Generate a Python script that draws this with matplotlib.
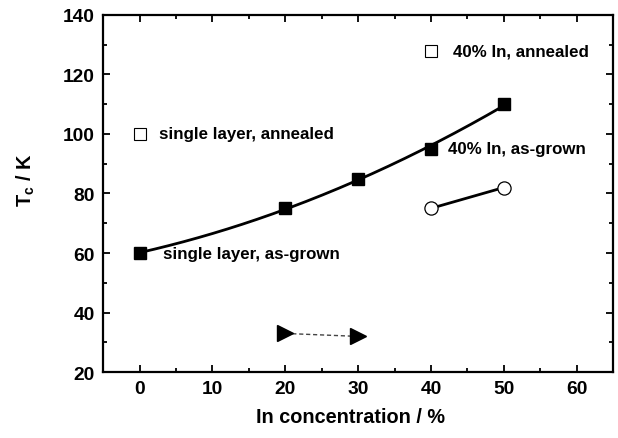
import numpy as np
import matplotlib
matplotlib.use('Agg')
import matplotlib.pyplot as plt

plt.rcParams['font.family'] = ['Liberation Sans', 'DejaVu Sans']
plt.rcParams['font.weight'] = 'bold'
plt.rcParams['mathtext.fontset'] = 'custom'
plt.rcParams['mathtext.rm'] = 'Liberation Sans:bold'
plt.rcParams['mathtext.it'] = 'Liberation Sans:bold'
plt.rcParams['mathtext.bf'] = 'Liberation Sans:bold'

# single layer / 40% In, as-grown (filled squares)
x_grown = [0, 20, 30, 40, 50]
tc_grown = [60, 75, 85, 95, 110]
# annealed (open squares)
x_ann = [0, 40]
tc_ann = [100, 128]
# open circles
x_circ = [40, 50]
tc_circ = [75, 82]
# triangles
x_tri = [20, 30]
tc_tri = [33.0, 32.0]

fig = plt.figure(figsize=(6.18, 4.39), dpi=100)
ax = fig.add_axes([0.167, 0.150, 0.825, 0.814])

# smooth curve through the as-grown points
coef = np.polyfit(x_grown, tc_grown, 2)
xs = np.linspace(0, 50, 200)
ax.plot(xs, np.polyval(coef, xs), color='black', lw=2.0, zorder=2)
ax.plot(x_grown, tc_grown, 's', color='black', ms=8.5, zorder=3)

ax.plot(x_ann, tc_ann, 's', mfc='white', mec='black', mew=0.8, ms=8, zorder=3)
ax.plot(x_circ, tc_circ, 'o-', color='black', mfc='white', mec='black',
        mew=0.9, ms=9.5, lw=2.0, zorder=3)
ax.plot(x_tri, tc_tri, '--', color='#444444', lw=1.0, dashes=(3, 2), zorder=2)
ax.plot(x_tri, tc_tri, '>', color='black', ms=11, zorder=3)

fs = 12.2
ax.text(3.2, 60, 'single layer, as-grown', fontsize=fs, fontweight='bold', va='center')
ax.text(2.6, 100, 'single layer, annealed', fontsize=fs, fontweight='bold', va='center')
ax.text(43.0, 128, '40% In, annealed', fontsize=fs, fontweight='bold', va='center')
ax.text(42.3, 95, '40% In, as-grown', fontsize=fs, fontweight='bold', va='center')

ax.set_xlim(-5, 65)
ax.set_ylim(20, 140)
ax.set_xticks(np.arange(0, 61, 10))
ax.set_xticks(np.arange(-5, 66, 5), minor=True)
ax.set_yticks(np.arange(20, 141, 20))
ax.set_yticks(np.arange(20, 141, 10), minor=True)
ax.tick_params(which='both', direction='in', top=True, right=True, width=1.3,
               labelsize=13.8, pad=6)
ax.tick_params(which='major', length=5)
ax.tick_params(which='minor', length=3)
for lab in ax.get_xticklabels() + ax.get_yticklabels():
    lab.set_fontweight('bold')
for sp in ax.spines.values():
    sp.set_linewidth(1.6)

ax.set_xlabel('In concentration / %', fontsize=14.3, fontweight='bold')
ax.xaxis.set_label_coords(0.485, -0.097)
ax.set_ylabel(r'T$_\mathrm{c}$ / K', fontsize=14.3, fontweight='bold')
ax.yaxis.set_label_coords(-0.129, 0.54)

fig.savefig('out.png', dpi=100)
